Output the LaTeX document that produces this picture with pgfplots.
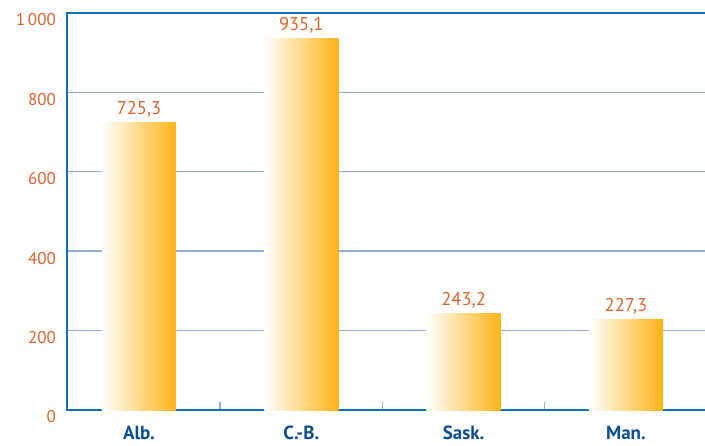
\documentclass[border=0pt]{standalone}
\usepackage{fontspec}
\setmainfont{PT Sans}
\usepackage{pgfplots}
\pgfplotsset{compat=1.18}
\definecolor{axisblue}{RGB}{20,110,180}
\definecolor{gridblue}{RGB}{145,172,214}
\definecolor{labelblue}{RGB}{12,78,140}
\definecolor{txtorange}{RGB}{218,100,45}
\definecolor{barorange}{RGB}{253,180,22}
\begin{document}
\begin{tikzpicture}[x=1pt,y=1pt]
\useasboundingbox (0,0) rectangle (705,445);
\begin{axis}[
  at={(67pt,35pt)}, anchor=south west,
  scale only axis, width=643.3pt, height=397pt,
  xmin=-0.4436, xmax=3.52, ymin=0, ymax=1000,
  ybar, bar width=74pt,
  /pgf/number format/assume math mode=true,
  axis line style={draw=axisblue, line width=1.6pt},
  ytick={0,200,400,600,800,1000},
  yticklabels={0,200,400,600,800,1\,000},
  ytick style={draw=none},
  yticklabel style={font=\fontsize{17}{20}\selectfont, text=txtorange, inner sep=0pt, xshift=-11pt, yshift=-7pt, anchor=east},
  ymajorgrids, grid style={draw=gridblue, line width=1.4pt},
  xtick={0.5,1.5,2.5},
  xticklabels={},
  xtick style={draw=gridblue, line width=1.4pt},
  extra x ticks={0,1,2,3},
  extra x tick labels={Alb.,C.-B.,Sask.,Man.},
  extra x tick style={major tick length=0pt, tick style={draw=none},
    xticklabel style={font=\bfseries\fontsize{19}{22}\selectfont, text=labelblue, inner sep=0pt, anchor=north, yshift=-16pt}},
  major tick length=8pt,
  tick align=inside, xtick pos=bottom, ytick pos=left,
  nodes near coords,
  nodes near coords style={font=\fontsize{18.5}{22}\selectfont, text=txtorange, anchor=south, inner sep=0pt, yshift=5pt,
    /pgf/number format/.cd, fixed, fixed zerofill, precision=1, use comma},
  every axis plot/.append style={draw=none, left color=white, right color=barorange, bar shift=0pt},
]
\addplot coordinates {(0,725.3)};
\addplot coordinates {(1,935.1)};
\addplot coordinates {(2,243.2)};
\addplot coordinates {(3,227.3)};
\end{axis}
\end{tikzpicture}
\end{document}
